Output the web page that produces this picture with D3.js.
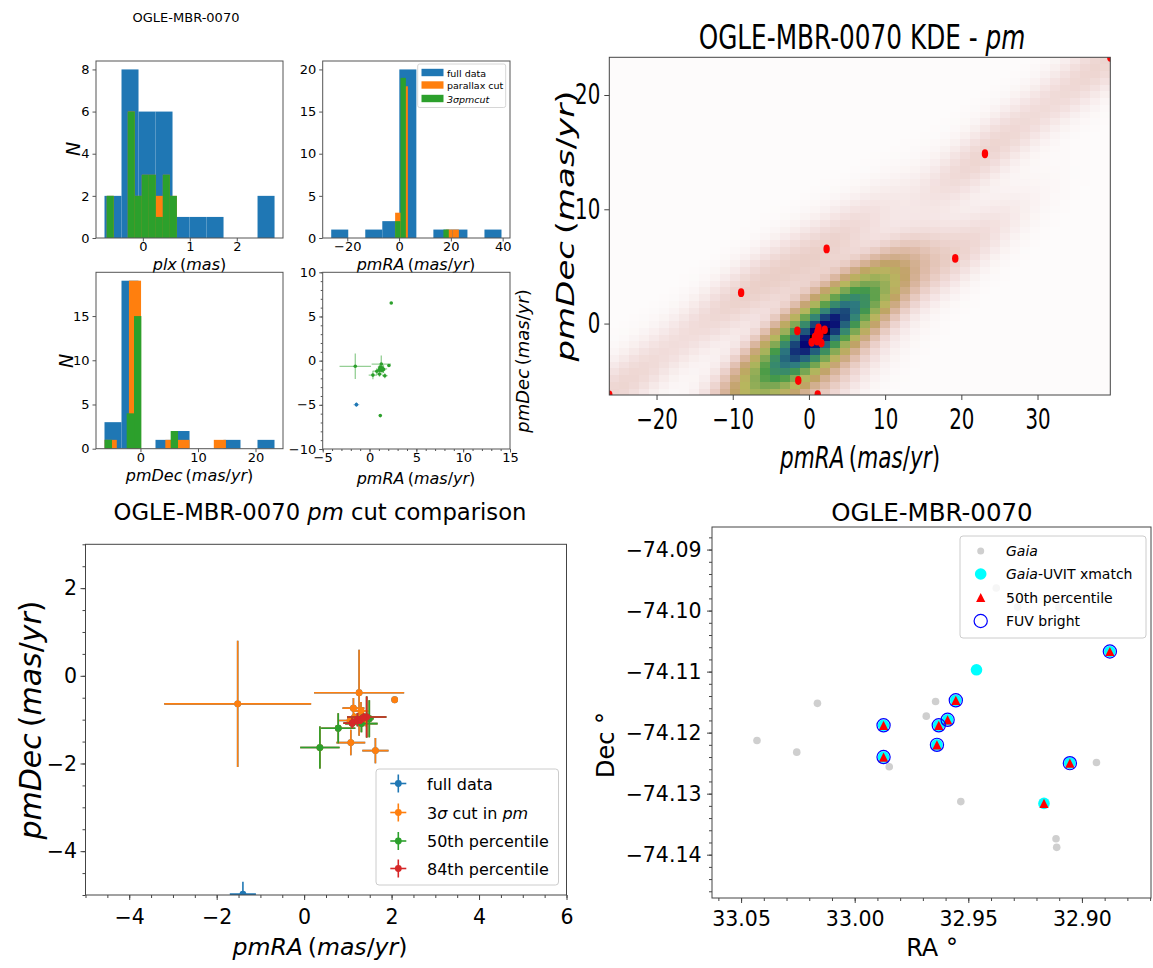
<!DOCTYPE html>
<html><head><meta charset="utf-8">
<script src="https://cdn.jsdelivr.net/npm/d3@7/dist/d3.min.js"></script>
<style>
html,body{margin:0;padding:0;background:#fff;}
svg{display:block;font-family:"DejaVu Sans",sans-serif;}
</style></head><body>
<svg id="chart" width="1153" height="968"></svg>
<script>
// ---------------- DATA ----------------
const objName = "OGLE-MBR-0070";
// full data proper motions (27 sources)
const pmRA   = [-26.2, 39.55, -8.9, -1.40, 23.1, 19.2, 2.32, 1.15, -1.52, 1.257, 2.07, 1.127, 1.067, 1.63, 1.05, 1.30, 1.40, 1.15, 0.36, 0.78, 1.31, 1.49, 1.10, 1.22, 1.43, 1.30, 1.36];
const pmDec  = [-6.25, 23.3, 2.7, -4.98, 14.86, 5.7, 6.53, -6.22, -0.64, -0.386, -0.546, -0.738, -1.523, -1.706, -1.02, -0.80, -1.05, -0.95, -1.637, -1.196, -1.09, -0.98, -1.08, -1.00, -0.94, -1.00, -0.95];
const pmRAerr  = [0.3, 0.3, 0.3, 0.30, 0.3, 0.3, 0.05, 0.05, 1.68, 1.03, 0.04, 0.25, 0.33, 0.30, 0.25, 0.20, 0.10, 0.10, 0.45, 0.39, 0.37, 0.10, 0.20, 0.15, 0.45, 0.10, 0.10];
const pmDecErr = [0.3, 0.3, 0.3, 0.28, 0.3, 0.3, 0.05, 0.05, 1.44, 0.98, 0.04, 0.23, 0.29, 0.29, 0.08, 0.20, 0.10, 0.10, 0.48, 0.34, 0.20, 0.42, 0.12, 0.15, 0.47, 0.10, 0.10];
const inParallaxCut = [0,0,0,0,1,1,1,1,1,1,1,1,1,1,1,1,1,1,1,1,1,1,1,1,1,1,1];
const inPmCut       = [0,0,0,0,0,1,1,1,1,1,1,1,1,1,1,1,1,1,1,1,1,1,1,1,1,1,1];
const in50th        = [0,0,0,0,0,0,0,0,0,0,0,0,0,0,0,0,0,0,1,1,1,1,1,1,1,1,1];
const in84th        = [0,0,0,0,0,0,0,0,0,0,0,0,0,0,0,0,0,0,0,0,0,0,1,1,1,1,1];

// parallax histograms (bin edges and counts)
const plxFullEdges  = [-0.816,-0.454,-0.092,0.270,0.632,0.994,1.356,1.718,2.080,2.442,2.804];
const plxFullCounts = [2,8,6,6,1,1,1,0,0,2];
const plxCutEdges   = [-0.768,-0.619,-0.470,-0.320,-0.171,-0.022,0.128,0.277,0.426,0.576,0.725];
const plxCutCounts  = [2,0,0,6,2,3,3,2,3,2];
const plxPmEdges    = [-0.768,-0.619,-0.470,-0.320,-0.171,-0.022,0.128,0.277,0.426,0.576,0.725];
const plxPmCounts   = [2,0,0,6,2,3,3,1,3,2];

// Gaia field sources (RA, Dec in degrees)
const gaiaRA  = [33.0430,33.0255,33.0164,32.9848,32.9685,32.9644,32.9533,32.9377,32.9283,32.9102,32.9114,32.9111,32.8936,
                 32.9873,32.9873,32.9630,32.9638,32.9591,32.9555,32.9464,32.9167,32.9053,32.8877];
const gaiaDec = [-74.1213,-74.1232,-74.1152,-74.1256,-74.1173,-74.1149,-74.1313,-74.0963,-74.0994,-74.0994,-74.1374,-74.1388,-74.1249,
                 -74.1188,-74.1240,-74.1188,-74.1220,-74.1179,-74.1147,-74.1097,-74.1316,-74.1250,-74.1067];
const uvitRA  = [32.9873,32.9873,32.9630,32.9638,32.9591,32.9555,32.9464,32.9167,32.9053,32.8877];
const uvitDec = [-74.1188,-74.1240,-74.1188,-74.1220,-74.1179,-74.1147,-74.1097,-74.1316,-74.1250,-74.1067];
const p50RA   = [32.9873,32.9873,32.9630,32.9638,32.9591,32.9555,32.9167,32.9053,32.8877];
const p50Dec  = [-74.1188,-74.1240,-74.1188,-74.1220,-74.1179,-74.1147,-74.1316,-74.1250,-74.1067];
const fuvRA   = [32.9873,32.9873,32.9630,32.9638,32.9591,32.9555,32.9053,32.8877];
const fuvDec  = [-74.1188,-74.1240,-74.1188,-74.1220,-74.1179,-74.1147,-74.1250,-74.1067];

const histLegend = ["full data","parallax cut","3σpmcut"];
const cmpLegend  = ["full data","3σ cut in pm","50th percentile","84th percentile"];
const fieldLegend= ["Gaia","Gaia-UVIT xmatch","50th percentile","FUV bright"];

const C = {blue:"#1f77b4", orange:"#ff7f0e", green:"#2ca02c", red:"#d62728"};

// ---------------- HELPERS ----------------
const svg = d3.select("#chart");
const defs = svg.append("defs");
let clipN = 0;

function txt(parent, x, y, parts, o={}){
  const size=o.size||12, anchor=o.anchor||"middle", sx=o.sx||1, rot=o.rot||0;
  const t = parent.append("text")
    .attr("transform",`translate(${x},${y}) scale(${sx},1) rotate(${rot})`)
    .attr("text-anchor",anchor).attr("dominant-baseline","central")
    .attr("fill","#000").style("font-size",size+"px");
  if(typeof parts==="string") parts=[[parts,0]];
  parts.forEach(([s,it])=>t.append("tspan").text(s).style("font-style",it?"italic":"normal"));
  return t;
}
const unitLabel = (a)=>[[a,1],["\u2009(",0],["mas",1],["/",0],["yr",1],[")",0]];

function makeAxes(o){
  const x=d3.scaleLinear().domain(o.xdom).range([o.x0,o.x1]);
  const y=d3.scaleLinear().domain(o.ydom).range([o.y1,o.y0]);
  const cid="clip"+(clipN++);
  defs.append("clipPath").attr("id",cid).append("rect")
    .attr("x",o.x0).attr("y",o.y0).attr("width",o.x1-o.x0).attr("height",o.y1-o.y0);
  const plot=svg.append("g").attr("clip-path",`url(#${cid})`);
  return {x,y,plot,o};
}
function finishAxes(A){
  const o=A.o, sx=o.sx||1, col=o.col||"#444", sw=o.sw||1;
  const style=(sel)=>{sel.select(".domain").remove();
    sel.selectAll("line").attr("stroke",col).attr("stroke-width",sw);
    sel.attr("font-family",null).attr("font-size",null);};
  if(o.xminor) svg.append("g").attr("transform",`translate(0,${o.y1})`)
     .call(d3.axisBottom(A.x).tickValues(o.xminor).tickSize(o.mlen).tickFormat(()=>"")).call(style);
  if(o.yminor) svg.append("g").attr("transform",`translate(${o.x0},0)`)
     .call(d3.axisLeft(A.y).tickValues(o.yminor).tickSize(o.mlen).tickFormat(()=>"")).call(style);
  const px=o.padx, py=o.pady;
  const gx=svg.append("g").attr("transform",`translate(0,${o.y1})`)
     .call(d3.axisBottom(A.x).tickValues(o.xt).tickSize(o.len).tickPadding(px).tickFormat(o.xfmt||d3.format("d"))).call(style);
  gx.selectAll("text").attr("fill","#000").style("font-size",o.font+"px").attr("transform",`scale(${sx},1)`);
  const gy=svg.append("g").attr("transform",`translate(${o.x0},0)`)
     .call(d3.axisLeft(A.y).tickValues(o.yt).tickSize(o.len).tickPadding(py).tickFormat(o.yfmt||d3.format("d"))).call(style);
  gy.selectAll("text").attr("fill","#000").style("font-size",o.font+"px")
     .attr("x",-(o.len+py)/sx).attr("transform",`scale(${sx},1)`);
  svg.append("rect").attr("x",o.x0).attr("y",o.y0).attr("width",o.x1-o.x0).attr("height",o.y1-o.y0)
     .attr("fill","none").attr("stroke",col).attr("stroke-width",sw);
}
function hist10(vals){
  const lo=d3.min(vals), hi=d3.max(vals), w=(hi-lo)/10, c=new Array(10).fill(0);
  vals.forEach(v=>{let k=Math.floor((v-lo)/w); if(k>9)k=9; if(k<0)k=0; c[k]++;});
  return c.map((n,i)=>({x0:lo+i*w,x1:lo+(i+1)*w,n}));
}
function binsFrom(edges,counts){return counts.map((n,i)=>({x0:edges[i],x1:edges[i+1],n}));}
function drawBars(A,bins,color){
  A.plot.selectAll(null).data(bins.filter(b=>b.n>0)).enter().append("rect")
    .attr("x",b=>A.x(b.x0)).attr("width",b=>A.x(b.x1)-A.x(b.x0))
    .attr("y",b=>A.y(b.n)).attr("height",b=>A.y(0)-A.y(b.n)).attr("fill",color);
}
const idx = d3.range(pmRA.length);
const sel = (flags)=>idx.filter(i=>flags[i]);
const pick = (arr,ids)=>ids.map(i=>arr[i]);
const fullIds=idx, plxIds=sel(inParallaxCut), pmIds=sel(inPmCut), p50Ids=sel(in50th), p84Ids=sel(in84th);

// ---------------- SMALL PANELS ----------------
txt(svg,186,17,objName,{size:13});
const small = {len:3.5, padx:0.5, pady:3, font:13, col:"#555"};

// A: parallax
const A = makeAxes(Object.assign({x0:96,x1:283,y0:61,y1:238,xdom:[-0.997,2.984],ydom:[0,8.4],xt:[0,1,2],yt:[0,2,4,6,8]},small));
drawBars(A,binsFrom(plxFullEdges,plxFullCounts),C.blue);
drawBars(A,binsFrom(plxCutEdges,plxCutCounts),C.orange);
drawBars(A,binsFrom(plxPmEdges,plxPmCounts),C.green);
finishAxes(A);
txt(svg,189.5,263.5,[["plx",1],["\u2009(",0],["mas",1],[")",0]],{size:16});
txt(svg,73,149,[["N",1]],{size:19,rot:-90});

// B: pmRA
const raMin=d3.min(pmRA), raMax=d3.max(pmRA), raPad=(raMax-raMin)*0.05;
const B = makeAxes(Object.assign({x0:322.7,x1:510,y0:61,y1:238,xdom:[raMin-raPad,raMax+raPad],ydom:[0,21],xt:[-20,0,20,40],yt:[0,5,10,15,20]},small));
drawBars(B,hist10(pick(pmRA,fullIds)),C.blue);
drawBars(B,hist10(pick(pmRA,plxIds)),C.orange);
drawBars(B,hist10(pick(pmRA,pmIds)),C.green);
finishAxes(B);
txt(svg,416,263.5,unitLabel("pmRA"),{size:16});
// legend B
svg.append("rect").attr("x",417.7).attr("y",64).attr("width",88).attr("height",43.5).attr("rx",2)
  .attr("fill","#fff").attr("fill-opacity",0.8).attr("stroke","#ccc").attr("stroke-width",0.8);
[[C.blue,histLegend[0],0],[C.orange,histLegend[1],0],[C.green,histLegend[2],1]].forEach(([c,l,it],i)=>{
  const yy=[72.5,85,98.5][i];
  svg.append("rect").attr("x",421.5).attr("y",yy-3.7).attr("width",22).attr("height",7.4).attr("fill",c);
  txt(svg,447,yy,[[l,it]],{size:9.5,anchor:"start"});
});

// C: pmDec
const deMin=d3.min(pmDec), deMax=d3.max(pmDec), dePad=(deMax-deMin)*0.05;
const Cx = makeAxes(Object.assign({x0:96,x1:283,y0:272.3,y1:448.7,xdom:[deMin-dePad,deMax+dePad],ydom:[0,19.95],xt:[0,10,20],yt:[0,5,10,15]},small));
drawBars(Cx,hist10(pick(pmDec,fullIds)),C.blue);
drawBars(Cx,hist10(pick(pmDec,plxIds)),C.orange);
drawBars(Cx,hist10(pick(pmDec,pmIds)),C.green);
finishAxes(Cx);
txt(svg,189.5,475,unitLabel("pmDec"),{size:16});
txt(svg,66,361,[["N",1]],{size:19,rot:-90});

// D: small scatter
const D = makeAxes(Object.assign({x0:322.7,x1:510,y0:272.3,y1:449,xdom:[-5,15],ydom:[-10,10],xt:[-5,0,5,10,15],yt:[-10,-5,0,5,10],
  xminor:d3.range(-5,16,1),yminor:d3.range(-10,11,1),mlen:2},small));
function smallErr(ids,color){
  const g=D.plot.append("g");
  ids.forEach(i=>{
    g.append("line").attr("x1",D.x(pmRA[i]-pmRAerr[i])).attr("x2",D.x(pmRA[i]+pmRAerr[i])).attr("y1",D.y(pmDec[i])).attr("y2",D.y(pmDec[i]))
      .attr("stroke",color).attr("stroke-opacity",0.5).attr("stroke-width",1.3);
    g.append("line").attr("x1",D.x(pmRA[i])).attr("x2",D.x(pmRA[i])).attr("y1",D.y(pmDec[i]-pmDecErr[i])).attr("y2",D.y(pmDec[i]+pmDecErr[i]))
      .attr("stroke",color).attr("stroke-opacity",0.5).attr("stroke-width",1.3);
  });
  ids.forEach(i=>g.append("circle").attr("cx",D.x(pmRA[i])).attr("cy",D.y(pmDec[i])).attr("r",1.8).attr("fill",color));
}
smallErr(fullIds.filter(i=>!inPmCut[i]),C.blue);
smallErr(pmIds,C.green);
finishAxes(D);
txt(svg,416,478,unitLabel("pmRA"),{size:16});
txt(svg,522,361,unitLabel("pmDec"),{size:18,rot:-90});

// ---------------- KDE PANEL ----------------
const F = makeAxes({x0:609.3,x1:1110.3,y0:57.3,y1:395,xdom:[raMin,raMax],ydom:[deMin,deMax],
  xt:[-20,-10,0,10,20,30],yt:[0,10,20],len:5,padx:9,pady:4,font:27.5,sx:0.72,col:"#444"});
// gaussian KDE (Scott's rule) of full data
(function(){
  const n=pmRA.length, mx=d3.mean(pmRA), my=d3.mean(pmDec);
  let sxx=0,syy=0,sxy=0;
  for(let i=0;i<n;i++){const dx=pmRA[i]-mx, dy=pmDec[i]-my; sxx+=dx*dx; syy+=dy*dy; sxy+=dx*dy;}
  sxx/=(n-1); syy/=(n-1); sxy/=(n-1);
  const f2=Math.pow(n,-1/3);
  const a=sxx*f2, b=sxy*f2, c=syy*f2, det=a*c-b*b, ia=c/det, ib=-b/det, ic=a/det;
  const N=50, cells=[];
  for(let i=0;i<N;i++) for(let j=0;j<N;j++){
    const gx=raMin+(raMax-raMin)*i/(N-1), gy=deMin+(deMax-deMin)*j/(N-1);
    let s=0;
    for(let k=0;k<n;k++){const dx=gx-pmRA[k], dy=gy-pmDec[k]; s+=Math.exp(-0.5*(ia*dx*dx+2*ib*dx*dy+ic*dy*dy));}
    cells.push({i,j,z:s});
  }
  const zmin=d3.min(cells,d=>d.z), zmax=d3.max(cells,d=>d.z);
  const R=[[0,0],[0.2824,0.1882],[0.4588,0.2714],[0.5490,0.4719],[0.6980,0.7176],[0.7882,0.7553],[1,0.9922]];
  const G=[[0,0],[0.0275,0],[0.1098,0.1893],[0.1647,0.3035],[0.2078,0.3841],[0.2824,0.5020],[0.5216,0.6397],[0.6980,0.7171],[0.7882,0.6392],[0.7922,0.6413],[0.8000,0.6447],[0.8078,0.6481],[0.8157,0.6549],[0.8667,0.6991],[0.8745,0.7103],[0.8824,0.7216],[0.8902,0.7323],[0.8980,0.7430],[0.9412,0.8275],[0.9569,0.8635],[0.9647,0.8816],[0.9961,0.9733],[1,0.9843]];
  const Bl=[[0,0],[0.0039,0.1684],[0.0078,0.2212],[0.0275,0.4329],[0.0314,0.4549],[0.2824,0.5004],[0.4667,0.2748],[0.5451,0.3205],[0.7843,0.3961],[0.8941,0.6651],[1,0.9843]];
  const ch=t=>d3.scaleLinear().domain(t.map(d=>d[0])).range(t.map(d=>d[1])).clamp(true);
  const sr=ch(R), sg=ch(G), sb=ch(Bl);
  const cmap=v=>{const t=1-v; return `rgb(${Math.round(sr(t)*255)},${Math.round(sg(t)*255)},${Math.round(sb(t)*255)})`;};
  const dxc=(raMax-raMin)/N, dyc=(deMax-deMin)/N;
  F.plot.append("g").attr("shape-rendering","crispEdges").selectAll("rect").data(cells).enter().append("rect")
    .attr("x",d=>F.x(raMin+d.i*dxc)).attr("width",d=>F.x(raMin+(d.i+1)*dxc)-F.x(raMin+d.i*dxc)+0.4)
    .attr("y",d=>F.y(deMin+(d.j+1)*dyc)).attr("height",d=>F.y(deMin+d.j*dyc)-F.y(deMin+(d.j+1)*dyc)+0.4)
    .attr("fill",d=>cmap((d.z-zmin)/(zmax-zmin)));
})();
F.plot.selectAll(null).data(idx).enter().append("ellipse")
  .attr("cx",i=>F.x(pmRA[i])).attr("cy",i=>F.y(pmDec[i])).attr("rx",3.2).attr("ry",4.4).attr("fill","#ff0000");
finishAxes(F);
txt(svg,862,38,[[objName+" KDE - ",0],["pm",1]],{size:33,sx:0.75});
txt(svg,860,458,unitLabel("pmRA"),{size:30,sx:0.72});
txt(svg,566,226,unitLabel("pmDec"),{size:34,sx:0.72,rot:-90});

// ---------------- PM CUT COMPARISON ----------------
const E = makeAxes({x0:85.5,x1:566.5,y0:544.3,y1:895,xdom:[-5,6],ydom:[-5,3],xt:[-4,-2,0,2,4,6],yt:[-4,-2,0,2],
  xminor:d3.range(-5,6.01,0.5),yminor:d3.range(-5,3.01,0.5),len:5,mlen:3,padx:9,pady:3.5,font:20.5,col:"#444"});
function errLayer(ids,color){
  const g=E.plot.append("g");
  ids.forEach(i=>{
    g.append("line").attr("x1",E.x(pmRA[i]-pmRAerr[i])).attr("x2",E.x(pmRA[i]+pmRAerr[i])).attr("y1",E.y(pmDec[i])).attr("y2",E.y(pmDec[i]))
      .attr("stroke",color).attr("stroke-width",1.6);
    g.append("line").attr("x1",E.x(pmRA[i])).attr("x2",E.x(pmRA[i])).attr("y1",E.y(pmDec[i]-pmDecErr[i])).attr("y2",E.y(pmDec[i]+pmDecErr[i]))
      .attr("stroke",color).attr("stroke-width",1.6);
  });
  ids.forEach(i=>g.append("circle").attr("cx",E.x(pmRA[i])).attr("cy",E.y(pmDec[i])).attr("r",3.4).attr("fill",color));
}
errLayer(fullIds,C.blue); errLayer(pmIds,C.orange); errLayer(p50Ids,C.green); errLayer(p84Ids,C.red);
finishAxes(E);
txt(svg,320,512,[[objName+" ",0],["pm",1],[" cut comparison",0]],{size:22.7});
txt(svg,320,947,unitLabel("pmRA"),{size:23.6});
txt(svg,30,720,unitLabel("pmDec"),{size:30,rot:-90});
svg.append("rect").attr("x",376).attr("y",769).attr("width",182.5).attr("height",116).attr("rx",3)
  .attr("fill","#fff").attr("fill-opacity",0.8).attr("stroke","#ccc").attr("stroke-width",1);
[[C.blue,[[cmpLegend[0],0]]],[C.orange,[["3",0],["σ",1],[" cut in ",0],["pm",1]]],[C.green,[[cmpLegend[2],0]]],[C.red,[[cmpLegend[3],0]]]]
 .forEach(([c,parts],i)=>{
  const yy=[783.5,812.5,841,868.5][i], xx=398.3;
  svg.append("line").attr("x1",xx-8).attr("x2",xx+8).attr("y1",yy).attr("y2",yy).attr("stroke",c).attr("stroke-width",1.6);
  svg.append("line").attr("x1",xx).attr("x2",xx).attr("y1",yy-9).attr("y2",yy+9).attr("stroke",c).attr("stroke-width",1.6);
  svg.append("circle").attr("cx",xx).attr("cy",yy).attr("r",3.4).attr("fill",c);
  txt(svg,427,yy,parts,{size:16,anchor:"start"});
 });

// ---------------- FIELD PANEL ----------------
const Gp = makeAxes({x0:712,x1:1151,y0:527,y1:898,xdom:[33.0628,32.8696],ydom:[-74.1471,-74.0863],
  xt:[33.05,33.00,32.95,32.90],yt:[-74.14,-74.13,-74.12,-74.11,-74.10,-74.09],
  xminor:d3.range(32.87,33.0601,0.01),yminor:d3.range(-74.146,-74.0869,0.002),
  len:5,mlen:3,padx:8,pady:5.5,font:20.5,col:"#444",xfmt:d3.format(".2f"),yfmt:d3.format(".2f")});
Gp.plot.selectAll(null).data(d3.range(gaiaRA.length)).enter().append("circle")
  .attr("cx",i=>Gp.x(gaiaRA[i])).attr("cy",i=>Gp.y(gaiaDec[i])).attr("r",3.8).attr("fill","#cfcfcf");
Gp.plot.selectAll(null).data(d3.range(uvitRA.length)).enter().append("circle")
  .attr("cx",i=>Gp.x(uvitRA[i])).attr("cy",i=>Gp.y(uvitDec[i])).attr("r",5.8).attr("fill","#00ffff");
const tri=(x,y,r)=>`M${x},${y-r}L${x-r},${y+r}L${x+r},${y+r}Z`;
Gp.plot.selectAll(null).data(d3.range(p50RA.length)).enter().append("path")
  .attr("d",i=>tri(Gp.x(p50RA[i]),Gp.y(p50Dec[i]),4.6)).attr("fill","#ff0000");
Gp.plot.selectAll(null).data(d3.range(fuvRA.length)).enter().append("circle")
  .attr("cx",i=>Gp.x(fuvRA[i])).attr("cy",i=>Gp.y(fuvDec[i])).attr("r",6.6).attr("fill","none").attr("stroke","#0000ff").attr("stroke-width",1.2);
finishAxes(Gp);
txt(svg,932,512,objName,{size:24.5});
txt(svg,932,948,"RA °",{size:24});
txt(svg,606,745,"Dec °",{size:24,rot:-90});
svg.append("rect").attr("x",960).attr("y",536).attr("width",186).attr("height",102).attr("rx",3)
  .attr("fill","#fff").attr("fill-opacity",0.8).attr("stroke","#ccc").attr("stroke-width",1);
const lx=980.7, ly=[551,574,597.5,621];
svg.append("circle").attr("cx",lx).attr("cy",ly[0]).attr("r",3.5).attr("fill","#cfcfcf");
svg.append("circle").attr("cx",lx).attr("cy",ly[1]).attr("r",5.8).attr("fill","#00ffff");
svg.append("path").attr("d",tri(lx,ly[2],4.6)).attr("fill","#ff0000");
svg.append("circle").attr("cx",lx).attr("cy",ly[3]).attr("r",6.6).attr("fill","none").attr("stroke","#0000ff").attr("stroke-width",1.2);
txt(svg,1006,ly[0],[[fieldLegend[0],1]],{size:14,anchor:"start"});
txt(svg,1006,ly[1],[["Gaia",1],["-UVIT xmatch",0]],{size:14,anchor:"start"});
txt(svg,1006,ly[2],fieldLegend[2],{size:14,anchor:"start"});
txt(svg,1006,ly[3],fieldLegend[3],{size:14,anchor:"start"});
</script>
</body></html>
